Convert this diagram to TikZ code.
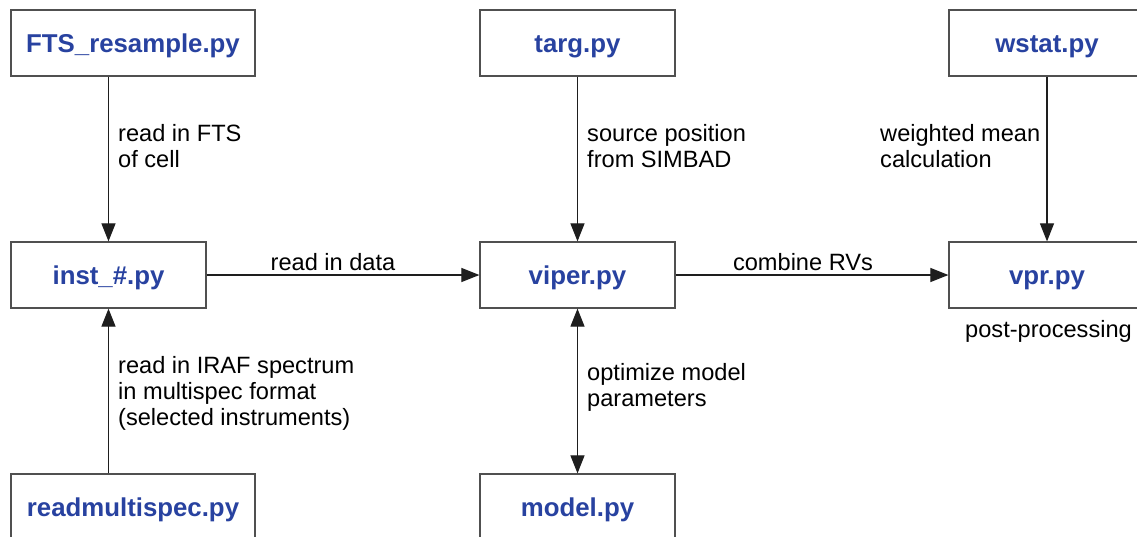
\documentclass[tikz,border=0pt]{standalone}
\usepackage{fontspec}
\setmainfont{Liberation Sans}
\usetikzlibrary{arrows.meta}
\definecolor{modblue}{RGB}{40,66,160}
\definecolor{framegray}{RGB}{80,80,80}
\definecolor{linegray}{RGB}{30,30,30}
\begin{document}
\begin{tikzpicture}[x=1pt,y=-1pt,
  module/.style={draw=framegray,line width=1.2pt,fill=white,minimum height=66pt,
    inner sep=0pt,text height=18pt,text depth=0pt,
    font=\fontsize{25.8}{29}\selectfont\bfseries,text=modblue},
  note/.style={inner sep=0pt,align=left,font=\fontsize{23.6}{26}\selectfont,text=black},
  flow/.style={draw=linegray,line width=1.1pt,-{Triangle[length=18pt,width=14pt]}},
  bothflow/.style={draw=linegray,line width=1.1pt,{Triangle[length=18pt,width=14pt]}-{Triangle[length=18pt,width=14pt]}}]
  \useasboundingbox (0,0) rectangle (1137,536);

  % program modules
  \node[module,minimum width=244pt] (fts)   at (133,43)    {FTS\_resample.py};
  \node[module,minimum width=195pt] (inst)  at (108.5,275) {inst\_\#.py};
  \node[module,minimum width=244pt] (rms)   at (133,507)   {readmultispec.py};
  \node[module,minimum width=195pt] (targ)  at (577.5,43)  {targ.py};
  \node[module,minimum width=195pt] (viper) at (577.5,275) {viper.py};
  \node[module,minimum width=195pt] (model) at (577.5,507) {model.py};
  \node[module,minimum width=196pt] (wstat) at (1047,43)   {wstat.py};
  \node[module,minimum width=196pt] (vpr)   at (1047,275)  {vpr.py};

  % data flow between modules
  \draw[flow] (fts.south -| inst.north) -- (inst.north);
  \draw[flow] (rms.north -| inst.south) -- (inst.south);
  \draw[flow] (inst.east) -- (viper.west);
  \draw[flow] (targ.south) -- (viper.north);
  \draw[bothflow] (viper.south) -- (model.north);
  \draw[flow] (viper.east) -- (vpr.west);
  \draw[flow] (wstat.south) -- (vpr.north);

  % annotations
  \node[note,anchor=north west] (l1) at (118,124.5) {read in FTS\\of cell};
  \node[note,anchor=north west] (l2) at (587,124.5) {source position\\from SIMBAD};
  \node[note,anchor=north west] (l3) at (880,124.5) {weighted mean\\calculation};
  \node[note,anchor=base] (l4) at (333,270) {read in data};
  \node[note,anchor=base] (l5) at (803,270) {combine RVs};
  \node[note,anchor=base] (l6) at (1048.5,337) {post-processing};
  \node[note,anchor=north west] (l7) at (118,356.5) {read in IRAF spectrum\\in multispec format\\(selected instruments)};
  \node[note,anchor=north west] (l8) at (587,363.5) {optimize model\\parameters};
\end{tikzpicture}
\end{document}
